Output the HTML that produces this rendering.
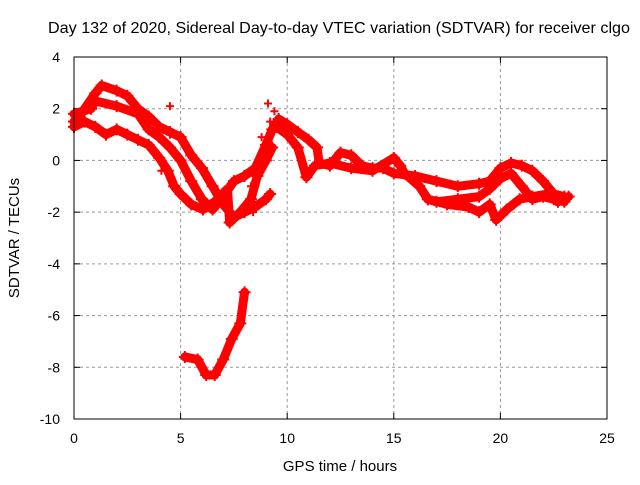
<!DOCTYPE html>
<html><head><meta charset="utf-8"><style>
body{margin:0;background:#fff}
svg text{font-family:"Liberation Sans",sans-serif;font-size:14px;fill:#000}
</style></head><body>
<svg id="c" width="640" height="480">
<rect x="0" y="0" width="640" height="480" fill="#fff"/>
<text x="339" y="33" text-anchor="middle" style="font-size:16px" textLength="582" lengthAdjust="spacingAndGlyphs">Day 132 of 2020, Sidereal Day-to-day VTEC variation (SDTVAR) for receiver clgo</text>
<text x="340" y="471" text-anchor="middle" style="font-size:15px">GPS time / hours</text>
<text x="19" y="238" text-anchor="middle" style="font-size:15px" transform="rotate(-90 19 238)">SDTVAR / TECUs</text>
<g id="grid"></g><g id="marks"></g>
<rect x="74" y="57" width="533" height="362" fill="none" stroke="#000" stroke-width="1"/>
</svg>
<script>
const xTicks=[0,5,10,15,20,25];
const yTicks=[4,2,0,-2,-4,-6,-8,-10];
const trackA=[[0,1.5],[0.5,2.0],[1,2.6],[1.3,2.9],[2,2.7],[2.5,2.5],[3,2.0],[3.5,1.7],[4,1.3],[4.5,1.1],[5,0.9],[5.5,0.2],[6,-0.3],[6.5,-1.0],[7,-1.7],[7.5,-2.2],[8,-2.0],[8.5,-1.8],[9,-1.5],[9.2,-1.3]];
const trackB=[[0,1.8],[0.8,2.0],[1,2.3],[2,2.1],[3,1.8],[3.5,1.2],[4,0.9],[4.5,0.5],[5,0],[5.5,-0.8],[6,-1.5],[6.5,-1.9],[7,-1.4],[7.5,-0.8],[8,-0.6],[8.5,-0.3],[9,0.6],[9.3,1.2],[9.6,1.6],[10,1.4],[10.5,1.1],[11,0.8],[11.4,0.5],[11.5,-0.1],[12,-0.2],[12.5,0.3],[13,0.2],[13.5,-0.2],[14,-0.3],[14.5,-0.3],[15,-0.5],[16,-0.6],[17,-0.8],[18,-1.0],[19,-0.9],[19.5,-0.8],[20,-0.3],[20.5,-0.1],[21,-0.2],[21.5,-0.4],[22,-0.8],[22.5,-1.3],[23,-1.4]];
const trackC=[[0,1.3],[0.5,1.5],[1,1.3],[1.5,1.0],[2,1.2],[2.5,1.0],[3,0.8],[3.5,0.6],[4,0.1],[4.4,-0.4],[4.7,-1.0],[5,-1.3],[5.5,-1.7],[6.05,-1.9],[6.6,-1.6],[7.2,-1.1],[7.3,-2.4],[7.8,-2.0],[8.3,-1.5],[8.6,-0.6],[9,0],[9.3,0.5]];
const trackD=[[9.5,1.3],[10,1.0],[10.5,0.5],[10.9,-0.65],[11.3,-0.2],[12,-0.1],[13,-0.3],[14,-0.4],[15,0.1],[15.3,-0.2],[15.5,-0.5],[16.2,-1.0],[16.6,-1.5],[17,-1.6],[18,-1.5],[19,-1.4],[19.5,-1.1],[20,-0.7],[20.5,-0.5],[21,-1.0],[21.5,-1.5],[22,-1.4],[22.5,-1.5],[23,-1.6]];
const trackE=[[16.6,-1.5],[17.5,-1.7],[18.5,-1.8],[19,-2.0],[19.5,-1.7],[19.8,-2.3],[20.3,-1.9],[20.9,-1.5],[21.5,-1.4],[22.2,-1.3],[22.7,-1.6],[23.2,-1.4]];
const trackF=[[5.2,-7.6],[5.8,-7.7],[6.2,-8.3],[6.6,-8.3],[7,-7.7],[7.4,-6.9],[7.8,-6.3],[8.0,-5.1]];
const spikes=[[4.0,1.0],[4.0,0.1],[4.1,-0.4],[4.5,2.1],[4.5,1.0],[8.3,-1.0],[8.4,-2.0],[8.8,0.9],[8.9,-1.6],[9.1,2.2],[9.2,1.5],[9.4,1.9]];
const tracks=[trackA,trackB,trackC,trackD,trackE,trackF];
const X=h=>74+h*533/25, Y=v=>57+(4-v)*362/14;
const NS="http://www.w3.org/2000/svg";
const g=document.getElementById('grid'), m=document.getElementById('marks');
function mk(t,a,p){const e=document.createElementNS(NS,t);for(const k in a)e.setAttribute(k,a[k]);p.appendChild(e);return e;}
xTicks.forEach(t=>{const x=X(t);
 if(t>0&&t<25){const l=mk('line',{x1:x,y1:57,x2:x,y2:419,stroke:'#999','stroke-dasharray':'3,3'},g);}
 mk('line',{x1:x,y1:419,x2:x,y2:413,stroke:'#000'},g);mk('line',{x1:x,y1:57,x2:x,y2:63,stroke:'#000'},g);
 const tx=mk('text',{x:x,y:443,'text-anchor':'middle'},g);tx.textContent=t;
 });
yTicks.forEach(t=>{const y=Y(t);
 if(t<4&&t>-10){const l=mk('line',{x1:74,y1:y,x2:607,y2:y,stroke:'#999','stroke-dasharray':'3,3'},g);}
 mk('line',{x1:74,y1:y,x2:80,y2:y,stroke:'#000'},g);mk('line',{x1:607,y1:y,x2:601,y2:y,stroke:'#000'},g);
 const tx=mk('text',{x:60,y:y+5,'text-anchor':'end'},g);tx.textContent=t;
 });
tracks.forEach((tr,i)=>{
 const pl=mk('polyline',{points:tr.map(p=>X(p[0])+','+Y(p[1])).join(' '),fill:'none',stroke:'#f00','stroke-width':9,'stroke-linejoin':'round','stroke-linecap':'round'},m);
 
 
 tr.forEach(p=>{const x=X(p[0]),y=Y(p[1]);
  const pt=mk('path',{d:`M${x-6},${y}h12M${x},${y-6}v12`,stroke:'#f00','stroke-width':2},m);
  
  });
});
spikes.forEach(p=>{const x=X(p[0]),y=Y(p[1]);
 const pt=mk('path',{d:`M${x-4},${y}h8M${x},${y-4}v8`,stroke:'#f00','stroke-width':2},m);
 
 });
</script>
</body></html>
